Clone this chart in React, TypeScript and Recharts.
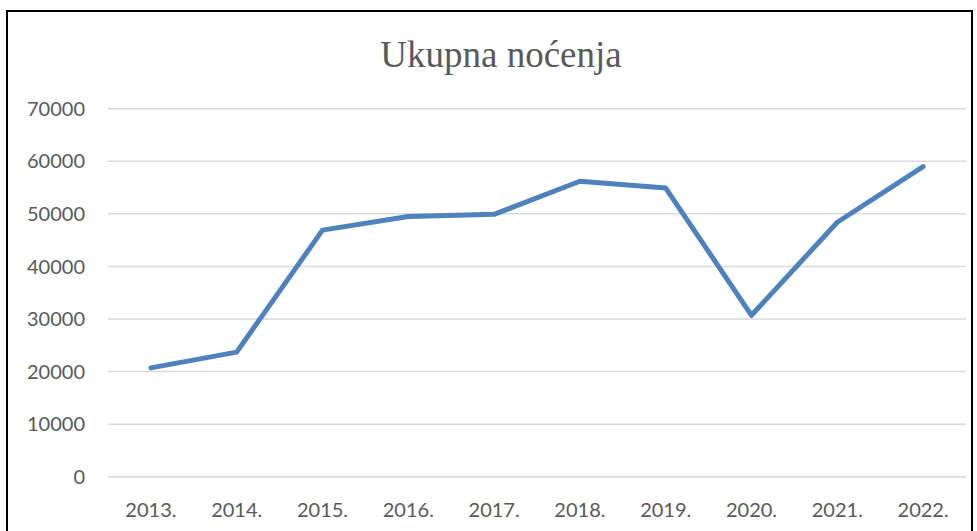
import React from "react";
import { LineChart, Line, XAxis, YAxis, CartesianGrid } from "recharts";

const categories = ["2013.", "2014.", "2015.", "2016.", "2017.", "2018.", "2019.", "2020.", "2021.", "2022."];
const values = [20700, 23700, 46900, 49500, 49900, 56200, 54900, 30700, 48400, 59000];
const yTicks = [0, 10000, 20000, 30000, 40000, 50000, 60000, 70000];
const title = "Ukupna noćenja";

const data = categories.map((c, i) => ({ year: c, value: values[i] }));

const tickFont = { fill: "#595959", fontSize: 20, fontFamily: "Lato, 'Open Sans', sans-serif" };

export default function App() {
  return (
    <div style={{ position: "absolute", left: 0, top: 0, width: 977, height: 531, overflow: "hidden", background: "#fff" }}>
      <div
        style={{
          position: "absolute",
          left: 6,
          top: 10,
          width: 967,
          height: 540,
          border: "2px solid #000",
          boxSizing: "border-box",
        }}
      />
      <div
        style={{
          position: "absolute",
          left: 0,
          top: 32,
          width: 1002,
          textAlign: "center",
          fontFamily: "'Liberation Serif', 'Times New Roman', serif",
          fontSize: 37,
          color: "#595959",
          lineHeight: "46px",
        }}
      >
        {title}
      </div>
      <div style={{ position: "absolute", left: 0, top: 0 }}>
        <LineChart width={977} height={531} data={data} margin={{ top: 108.7, right: 11, bottom: 0, left: 0 }}>
          <CartesianGrid vertical={false} stroke="#d9d9d9" strokeWidth={1.5} />
          <XAxis
            dataKey="year"
            axisLine={{ stroke: "#d9d9d9", strokeWidth: 1.5 }}
            tickLine={false}
            tick={tickFont}
            tickMargin={20}
            height={54.3}
            interval={0}
            padding={{ left: 42.9, right: 42.9 }}
          />
          <YAxis
            type="number"
            domain={[0, 70000]}
            ticks={yTicks}
            axisLine={false}
            tickLine={false}
            tick={tickFont}
            tickMargin={17}
            width={108}
            interval={0}
          />
          <Line
            type="linear"
            dataKey="value"
            stroke="#4f81bd"
            strokeWidth={5}
            strokeLinecap="round"
            strokeLinejoin="round"
            dot={false}
            isAnimationActive={false}
          />
        </LineChart>
      </div>
    </div>
  );
}
